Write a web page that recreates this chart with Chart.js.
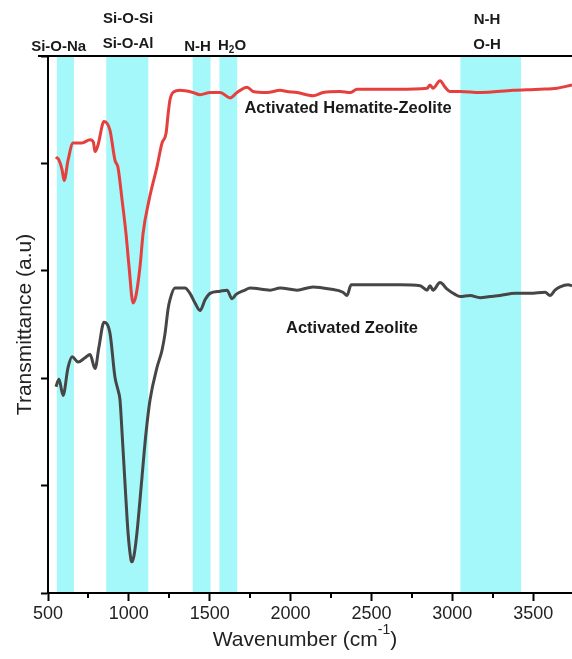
<!DOCTYPE html>
<html>
<head>
<meta charset="utf-8">
<title>FTIR - Activated Zeolite</title>
<script src="https://cdn.jsdelivr.net/npm/chart.js@4.4.1/dist/chart.umd.min.js"></script>
<style>
  html, body { margin: 0; padding: 0; background: #fff; }
  #wrap { width: 572px; height: 659px; position: relative; }
</style>
</head>
<body>
<div id="wrap"><canvas id="ftir"></canvas></div>
<script>
const hematiteWn = [549, 568, 587, 600, 624, 655, 710, 760, 780, 791, 809, 846, 883, 914, 933, 958, 982, 1001, 1026, 1044,
  1069, 1088, 1125, 1174, 1205, 1230, 1242, 1254, 1273, 1316, 1397, 1440, 1502, 1564, 1626, 1669, 1731, 1768, 1854, 1935,
  1978, 2040, 2139, 2201, 2306, 2368, 2411, 2553, 2658, 2844, 2862, 2881, 2924, 2955, 2986, 3048, 3172, 3376, 3543, 3648, 3740];
const hematiteT = [4.06, 4.03, 3.94, 3.84, 4.03, 4.19, 4.19, 4.22, 4.20, 4.11, 4.17, 4.39, 4.31, 4.03, 3.96, 3.66, 3.35, 3.04, 2.70, 2.77,
  3.04, 3.35, 3.66, 3.97, 4.19, 4.28, 4.45, 4.59, 4.66, 4.68, 4.66, 4.64, 4.66, 4.66, 4.61, 4.66, 4.71, 4.67, 4.66, 4.68,
  4.67, 4.66, 4.63, 4.66, 4.67, 4.66, 4.69, 4.69, 4.69, 4.70, 4.73, 4.70, 4.77, 4.71, 4.67, 4.67, 4.66, 4.68, 4.69, 4.70, 4.73];

const zeoliteWn = [549, 568, 593, 624, 649, 686, 729, 760, 791, 815, 846, 883, 914, 933, 945, 958, 982, 995, 1013, 1019,
  1032, 1050, 1069, 1106, 1131, 1174, 1205, 1224, 1242, 1254, 1285, 1347, 1378, 1409, 1440, 1471, 1502, 1564, 1607, 1638,
  1663, 1718, 1749, 1873, 1935, 2040, 2139, 2244, 2324, 2349, 2374, 2491, 2677, 2801, 2844, 2862, 2881, 2924, 2968, 3017,
  3048, 3110, 3172, 3233, 3295, 3388, 3481, 3574, 3604, 3635, 3666, 3716, 3740];
const zeoliteT = [1.92, 1.99, 1.84, 2.10, 2.20, 2.15, 2.19, 2.22, 2.09, 2.29, 2.52, 2.42, 2.01, 1.89, 1.80, 1.49, 0.87, 0.56, 0.31, 0.29,
  0.35, 0.56, 0.87, 1.49, 1.80, 2.10, 2.26, 2.42, 2.64, 2.73, 2.84, 2.84, 2.79, 2.70, 2.63, 2.73, 2.79, 2.81, 2.82, 2.74,
  2.78, 2.82, 2.84, 2.82, 2.84, 2.82, 2.85, 2.83, 2.80, 2.77, 2.87, 2.87, 2.87, 2.86, 2.82, 2.86, 2.82, 2.89, 2.83, 2.78,
  2.76, 2.77, 2.75, 2.76, 2.77, 2.79, 2.79, 2.80, 2.77, 2.82, 2.85, 2.87, 2.86];

// Bandas de asignación (cm-1)
const bandStart = [555, 860, 1395, 1560, 3050];
const bandEnd = [660, 1120, 1505, 1670, 3425];

// Ticks del eje X
const xTicks = [500, 1000, 1500, 2000, 2500, 3000, 3500];
const xMinorTicks = [750, 1250, 1750, 2250, 2750, 3250];

const FONT = '"Liberation Sans", Arial, Helvetica, sans-serif';
const BAND_COLOR = 'rgb(164, 248, 250)';
const RED = '#e5403d';
const GREY = '#464646';

// Bandas de fondo
const bandsPlugin = {
  id: 'bands',
  beforeDraw(chart) {
    const { ctx, chartArea, scales } = chart;
    ctx.save();
    ctx.fillStyle = BAND_COLOR;
    bandStart.forEach((start, i) => {
      const x1 = scales.x.getPixelForValue(start);
      const x2 = scales.x.getPixelForValue(bandEnd[i]);
      ctx.fillRect(x1, chartArea.top, x2 - x1, chartArea.bottom - chartArea.top);
    });
    ctx.restore();
  }
};

// Textos, títulos de ejes y línea superior
const textPlugin = {
  id: 'texts',
  afterDraw(chart) {
    const { ctx, chartArea, scales } = chart;
    const x = scales.x;
    ctx.save();

    // línea superior del marco
    ctx.strokeStyle = '#000';
    ctx.lineWidth = 2;
    ctx.beginPath();
    ctx.moveTo(38, chartArea.top);
    ctx.lineTo(chartArea.right, chartArea.top);
    ctx.stroke();

    // ticks menores
    ctx.beginPath();
    xMinorTicks.forEach(v => {
      const px = Math.round(x.getPixelForValue(v));
      ctx.moveTo(px, chartArea.bottom);
      ctx.lineTo(px, chartArea.bottom + 5);
    });
    ctx.stroke();

    ctx.fillStyle = '#1a1a1a';
    ctx.textBaseline = 'alphabetic';
    ctx.textAlign = 'center';

    // etiquetas de bandas
    ctx.font = `bold 15px ${FONT}`;
    ctx.fillText('Si-O-Na', x.getPixelForValue(566), 51);
    ctx.fillText('Si-O-Si', x.getPixelForValue(995), 23);
    ctx.fillText('Si-O-Al', x.getPixelForValue(995), 48);
    ctx.fillText('N-H', x.getPixelForValue(1425), 51);
    ctx.fillText('N-H', x.getPixelForValue(3215), 24);
    ctx.fillText('O-H', x.getPixelForValue(3215), 49);

    // H2O con subíndice
    const hx = x.getPixelForValue(1638);
    const wH = ctx.measureText('H').width;
    const wO = ctx.measureText('O').width;
    ctx.font = `bold 10px ${FONT}`;
    const w2 = ctx.measureText('2').width;
    let cx = hx - (wH + w2 + wO) / 2;
    ctx.textAlign = 'left';
    ctx.font = `bold 15px ${FONT}`;
    ctx.fillText('H', cx, 50);
    cx += wH;
    ctx.font = `bold 10px ${FONT}`;
    ctx.fillText('2', cx, 53);
    cx += w2;
    ctx.font = `bold 15px ${FONT}`;
    ctx.fillText('O', cx, 50);

    // nombres de las curvas
    ctx.textAlign = 'center';
    ctx.font = `bold 16.5px ${FONT}`;
    ctx.fillText('Activated Hematite-Zeolite', 348, 113);
    ctx.fillText('Activated Zeolite', 352, 333);

    // título eje Y
    ctx.font = `21px ${FONT}`;
    ctx.fillStyle = '#222';
    ctx.save();
    ctx.translate(31, (chartArea.top + chartArea.bottom) / 2);
    ctx.rotate(-Math.PI / 2);
    ctx.fillText('Transmittance (a.u)', 0, 0);
    ctx.restore();

    // título eje X con superíndice
    const partA = 'Wavenumber (cm';
    const partB = ')';
    ctx.font = `21px ${FONT}`;
    const wA = ctx.measureText(partA).width;
    const wB = ctx.measureText(partB).width;
    ctx.font = `14px ${FONT}`;
    const wSup = ctx.measureText('-1').width;
    let tx = 305 - (wA + wSup + wB) / 2;
    ctx.textAlign = 'left';
    ctx.font = `21px ${FONT}`;
    ctx.fillText(partA, tx, 646);
    tx += wA;
    ctx.font = `14px ${FONT}`;
    ctx.fillText('-1', tx, 634);
    tx += wSup;
    ctx.font = `21px ${FONT}`;
    ctx.fillText(partB, tx, 646);

    ctx.restore();
  }
};

const toPoints = (xs, ys) => xs.map((v, i) => ({ x: v, y: ys[i] }));

new Chart(document.getElementById('ftir'), {
  type: 'line',
  data: {
    datasets: [
      {
        label: 'Activated Hematite-Zeolite',
        data: toPoints(hematiteWn, hematiteT),
        borderColor: RED,
        borderWidth: 3,
        pointRadius: 0,
        cubicInterpolationMode: 'monotone'
      },
      {
        label: 'Activated Zeolite',
        data: toPoints(zeoliteWn, zeoliteT),
        borderColor: GREY,
        borderWidth: 3,
        pointRadius: 0,
        cubicInterpolationMode: 'monotone'
      }
    ]
  },
  options: {
    responsive: true,
    maintainAspectRatio: false,
    animation: false,
    layout: { padding: { top: 56, left: 0, right: 0, bottom: 0 } },
    plugins: {
      legend: { display: false },
      tooltip: { enabled: false }
    },
    scales: {
      x: {
        type: 'linear',
        min: 500,
        max: 3740,
        afterFit: (scale) => { scale.height = 66; },
        afterBuildTicks: (scale) => { scale.ticks = xTicks.map(v => ({ value: v })); },
        border: { display: true, color: '#000', width: 2 },
        grid: {
          drawOnChartArea: false,
          drawTicks: true,
          tickLength: 8,
          tickWidth: 2,
          tickColor: '#000'
        },
        ticks: {
          autoSkip: false,
          maxRotation: 0,
          padding: 2,
          color: '#222',
          font: { family: FONT, size: 18 },
          callback: (value) => String(value)
        }
      },
      y: {
        min: 0,
        max: 5,
        afterFit: (scale) => { scale.width = 48; },
        border: { display: true, color: '#000', width: 2 },
        grid: {
          drawOnChartArea: false,
          drawTicks: true,
          tickLength: 7,
          tickWidth: 2,
          tickColor: '#000'
        },
        ticks: {
          stepSize: 1,
          callback: () => ''
        }
      }
    }
  },
  plugins: [bandsPlugin, textPlugin]
});
</script>
</body>
</html>
